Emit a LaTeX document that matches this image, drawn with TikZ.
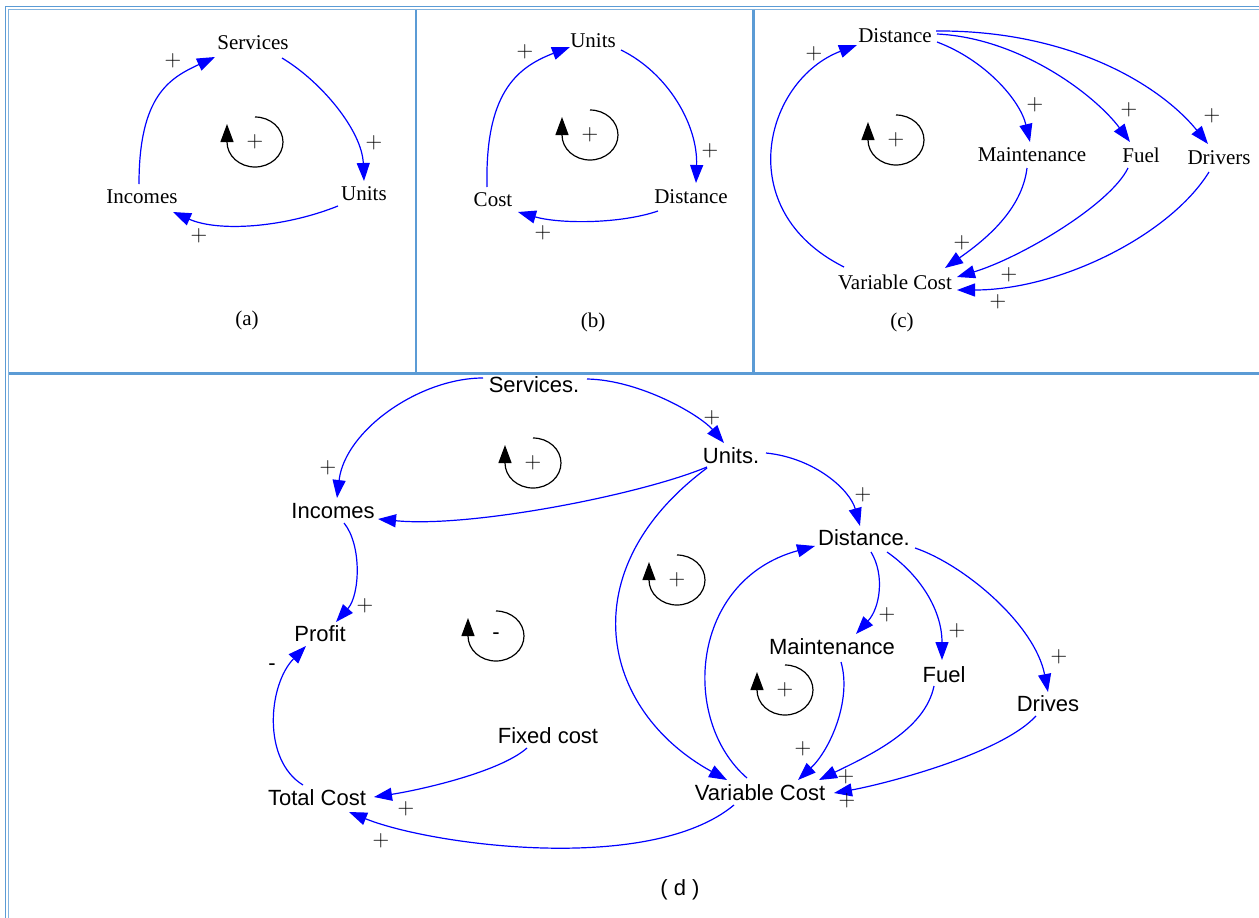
\documentclass[tikz,border=0pt]{standalone}
\usepackage{fontspec}
\newfontfamily\tnr{Liberation Serif}
\newfontfamily\arl{Liberation Sans}
\usetikzlibrary{arrows.meta,calc}
\definecolor{frameblue}{RGB}{91,155,213}
\begin{document}
\begin{tikzpicture}[x=1pt,y=-1pt,
  conn/.style={blue, line width=1.2pt, -{Triangle[length=18pt,width=13pt]}},
  loopline/.style={black, line width=1.2pt, -{Triangle[length=18pt,width=13pt]}},
  tlab/.style={font=\tnr\fontsize{21}{21}\selectfont, inner sep=0pt},
  alab/.style={font=\arl\fontsize{22}{22}\selectfont, inner sep=0pt},
  pl/.style={font=\fontsize{23}{23}\selectfont, inner sep=0pt},
  framel/.style={frameblue, line width=2.2pt}]
\useasboundingbox (0,0) rectangle (1259,918);
% frame
\draw[frameblue, line width=1.3pt] (5.5,918) -- (5.5,6.5) -- (1259,6.5);
\draw[frameblue!75, line width=1.6pt] (8.5,918) -- (8.5,9.5) -- (1259,9.5);
\draw[framel] (416,9.5) -- (416,373.5);
\draw[framel, line width=2.6pt] (753.5,9.5) -- (753.5,373.5);
\draw[framel] (8.5,373.5) -- (1259,373.5);

% ---------- panel (a)
\node[tlab] (aS) at (253,43) {Services};
\node[tlab] (aU) at (364,194) {Units};
\node[tlab] (aI) at (142,197) {Incomes};
\node[tlab] (aC) at (247,320) {(a)};
\node[pl] (aL) at (255,142) {+};
\draw[loopline] ($(aL)+(0,-25)$) arc[start angle=-90, end angle=180, x radius=28, y radius=25] -- ++(0,-18);
\draw[conn] ($(aI)+(-3,-13)$) .. controls +(0,-89) and +(-45,21) .. ($(aS)+(-38,14)$);
\node[pl] (aP1) at (173,61) {+};
\draw[conn] ($(aS)+(29,15)$) .. controls +(40,24) and +(-2,-50) .. ($(aU)+(0,-13)$);
\node[pl] (aP2) at (374,143) {+};
\draw[conn] ($(aU)+(-26,12)$) .. controls +(-55,22) and +(45,20) .. ($(aI)+(31,15)$);
\node[pl] (aP3) at (199,236) {+};

% ---------- panel (b)
\node[tlab] (bU) at (593,41) {Units};
\node[tlab] (bD) at (691,197) {Distance};
\node[tlab] (bC) at (493,200) {Cost};
\node[tlab] (bCap) at (593,322) {(b)};
\node[pl] (bL) at (590,135) {+};
\draw[loopline] ($(bL)+(0,-25)$) arc[start angle=-90, end angle=180, x radius=28, y radius=25] -- ++(0,-18);
\draw[conn] ($(bC)+(-6,-13)$) .. controls +(-2,-92) and +(-55,21) .. ($(bU)+(-23,6)$);
\node[pl] (bP1) at (525,52) {+};
\draw[conn] ($(bU)+(28,9)$) .. controls +(47,23) and +(2,-58) .. ($(bD)+(5,-14)$);
\node[pl] (bP2) at (710,151) {+};
\draw[conn] ($(bD)+(-33,14)$) .. controls +(-38,13) and +(42,12) .. ($(bC)+(25,12)$);
\node[pl] (bP3) at (543,233) {+};

% ---------- panel (c)
\node[tlab] (cD) at (895,36) {Distance};
\node[tlab] (cM) at (1032,155) {Maintenance};
\node[tlab] (cF) at (1141,155) {Fuel};
\node[tlab] (cR) at (1219,158) {Drivers};
\node[tlab] (cV) at (895,282) {Variable Cost};
\node[tlab] (cCap) at (902,322) {(c)};
\node[pl] (cL) at (896,140) {+};
\draw[loopline] ($(cL)+(0,-25)$) arc[start angle=-90, end angle=180, x radius=28, y radius=25] -- ++(0,-18);
\draw[conn] ($(cV)+(-51,-15)$) .. controls +(-114,-57) and +(-92,35) .. ($(cD)+(-38,9)$);
\node[pl] (cP1) at (814,54) {+};
\draw[conn] ($(cD)+(42,6)$) .. controls +(48,18) and +(-10,-42) .. ($(cM)+(-2,-13)$);
\node[pl] (cP2) at (1035,105) {+};
\draw[conn] ($(cD)+(42,-2)$) .. controls +(83,4) and +(-35,-47) .. ($(cF)+(-11,-13)$);
\node[pl] (cP3) at (1129,110) {+};
\draw[conn] ($(cD)+(41,-5)$) .. controls +(134,-1) and +(-48,-59) .. ($(cR)+(-11,-14)$);
\node[pl] (cP4) at (1212,116) {+};
\draw[conn] ($(cM)+(-5,13)$) .. controls +(-5,42) and +(40,-28) .. ($(cV)+(50,-14)$);
\node[pl] (cP5) at (962,243) {+};
\draw[conn] ($(cF)+(-13,13)$) .. controls +(-18,37) and +(63,-19) .. ($(cV)+(62,-5)$);
\node[pl] (cP6) at (1009,275) {+};
\draw[conn] ($(cR)+(-10,14)$) .. controls +(-39,63) and +(103,0) .. ($(cV)+(62,8)$);
\node[pl] (cP7) at (998,302) {+};

% ---------- panel (d)
\node[alab] (dSv) at (534,385) {Services.};
\node[alab] (dUn) at (731,456) {Units.};
\node[alab] (dIn) at (333,511) {Incomes};
\node[alab] (dDs) at (864,538) {Distance.};
\node[alab] (dP) at (320,634) {Profit};
\node[alab] (dMt) at (832,647) {Maintenance};
\node[alab] (dFu) at (944,675) {Fuel};
\node[alab] (dDv) at (1048,704) {Drives};
\node[alab] (dFc) at (548,736) {Fixed cost};
\node[alab] (dT) at (317,798) {Total Cost};
\node[alab] (dVc) at (760,793) {Variable Cost};
\node[alab] (dCap) at (680,890) {( d )};
\node[pl] (dL1) at (533,463) {+};
\node[alab] (dL2) at (496,636) {-};
\node[pl] (dL3) at (677,580) {+};
\node[pl] (dL4) at (785,690) {+};
\foreach \l in {dL1,dL2,dL3,dL4}
  \draw[loopline] ($(\l)+(0,-25)$) arc[start angle=-90, end angle=180, x radius=28, y radius=25] -- ++(0,-18);

\draw[conn] ($(dSv)+(-51,-7)$) .. controls +(-63,0) and +(8,-68) .. ($(dIn)+(4,-13)$);
\node[pl] (dP1) at (328,468) {+};
\draw[conn] ($(dSv)+(53,-6)$) .. controls +(53,1) and +(-24,-28) .. ($(dUn)+(-7,-13)$);
\node[pl] (dP2) at (712,418) {+};
\draw[conn] ($(dUn)+(-24,11)$) .. controls +(-67,28) and +(92,9) .. ($(dIn)+(45,8)$);
\draw[conn] ($(dUn)+(-24,12)$) .. controls +(-137,102) and +(-127,-70) .. ($(dVc)+(-33,-13)$);
\draw[conn] ($(dUn)+(35,-3)$) .. controls +(49,5) and +(-10,-36) .. ($(dDs)+(-4,-12)$);
\node[pl] (dP3) at (863,495) {+};
\draw[conn] ($(dVc)+(-13,-15)$) .. controls +(-67,-58) and +(-125,34) .. ($(dDs)+(-49,8)$);
\draw[conn] ($(dDs)+(7,14)$) .. controls +(14,23) and +(24,-26) .. ($(dMt)+(24,-13)$);
\node[pl] (dP4) at (887,615) {+};
\draw[conn] ($(dDs)+(23,14)$) .. controls +(33,23) and +(0,-50) .. ($(dFu)+(-2,-15)$);
\node[pl] (dP5) at (957,631) {+};
\draw[conn] ($(dDs)+(51,10)$) .. controls +(50,17) and +(-13,-67) .. ($(dDv)+(0,-12)$);
\node[pl] (dP6) at (1059,657) {+};
\draw[conn] ($(dMt)+(9,15)$) .. controls +(11,38) and +(32,-30) .. ($(dVc)+(38,-13)$);
\node[pl] (dP7) at (803,749) {+};
\draw[conn] ($(dFu)+(-10,11)$) .. controls +(-9,44) and +(51,-25) .. ($(dVc)+(59,-13)$);
\node[pl] (dP8) at (846,777) {+};
\draw[conn] ($(dDv)+(-12,12)$) .. controls +(-36,39) and +(46,-8) .. ($(dVc)+(74,0)$);
\node[pl] (dP9) at (847,801) {+};
\draw[conn] ($(dFc)+(-21,12)$) .. controls +(-27,24) and +(46,-7) .. ($(dT)+(57,-1)$);
\node[pl] (dP10) at (406,809) {+};
\draw[conn] ($(dVc)+(-26,12)$) .. controls +(-84,70) and +(81,33) .. ($(dT)+(32,14)$);
\node[pl] (dP11) at (381,841) {+};
\draw[conn] ($(dT)+(-14,-13)$) .. controls +(-41,-25) and +(-38,39) .. ($(dP)+(-14,12)$);
\node[alab] (dM1) at (272,667) {-};
\draw[conn] ($(dIn)+(11,12)$) .. controls +(18,22) and +(24,-27) .. ($(dP)+(16,-12)$);
\node[pl] (dP12) at (365,606) {+};
\end{tikzpicture}
\end{document}
